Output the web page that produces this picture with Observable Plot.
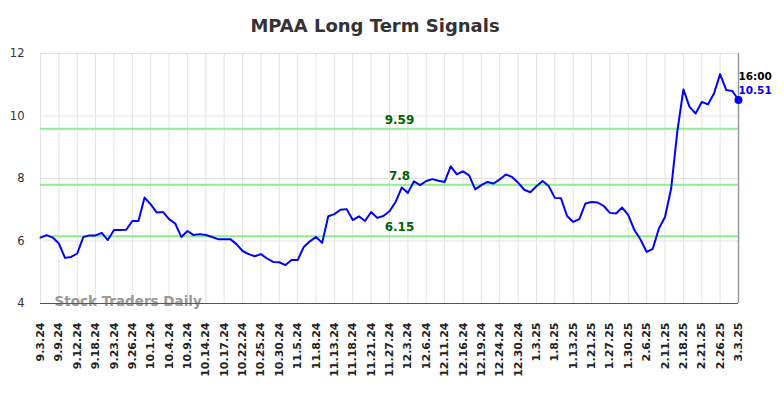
<!DOCTYPE html>
<html><head><meta charset="utf-8">
<script src="https://cdn.jsdelivr.net/npm/d3@7"></script>
<script src="https://cdn.jsdelivr.net/npm/@observablehq/plot@0.6"></script>
<style>
body{margin:0;background:#fff;}
#wrap{position:relative;width:784px;height:398px;}
#title{position:absolute;top:15px;left:0;width:750px;text-align:center;font:bold 18px "DejaVu Sans";color:#333;line-height:normal;}
</style></head><body>
<div id="wrap"><div id="title">MPAA Long Term Signals</div></div>
<script>
const values = [
  6.11, 6.19, 6.11, 5.92, 5.46, 5.49, 5.60, 6.13, 6.18, 6.18,
  6.26, 6.03, 6.35, 6.35, 6.36, 6.64, 6.64, 7.39, 7.17, 6.91,
  6.93, 6.70, 6.56, 6.13, 6.32, 6.19, 6.22, 6.19, 6.13, 6.06,
  6.06, 6.06, 5.90, 5.68, 5.58, 5.51, 5.58, 5.44, 5.33, 5.32,
  5.23, 5.39, 5.39, 5.81, 5.99, 6.13, 5.94, 6.79, 6.86, 7.00,
  7.02, 6.67, 6.79, 6.64, 6.93, 6.74, 6.80, 6.95, 7.25, 7.71,
  7.54, 7.91, 7.79, 7.92, 7.98, 7.93, 7.89, 8.39, 8.13, 8.23,
  8.10, 7.65, 7.79, 7.89, 7.84, 7.97, 8.13, 8.05, 7.87, 7.64,
  7.56, 7.75, 7.92, 7.76, 7.38, 7.37, 6.80, 6.61, 6.70, 7.20,
  7.25, 7.23, 7.12, 6.90, 6.88, 7.07, 6.83, 6.35, 6.05, 5.65,
  5.75, 6.40, 6.77, 7.68, 9.49, 10.85, 10.29, 10.08, 10.45, 10.37,
  10.72, 11.34, 10.83, 10.80, 10.51
];
const tickLabels = [
  "9.3.24","9.9.24","9.12.24","9.18.24","9.23.24","9.26.24","10.1.24","10.4.24","10.9.24","10.14.24",
  "10.17.24","10.22.24","10.25.24","10.30.24","11.5.24","11.8.24","11.13.24","11.18.24","11.21.24","11.27.24",
  "12.3.24","12.6.24","12.11.24","12.16.24","12.19.24","12.24.24","12.30.24","1.3.25","1.8.25","1.13.25",
  "1.21.25","1.27.25","1.30.25","2.6.25","2.11.25","2.18.25","2.21.25","2.26.25","3.3.25"
];
const tickStep = 3;
const levels = [9.59, 7.8, 6.15];
const levelLabels = ["9.59", "7.8", "6.15"];
const yTicks = [4, 6, 8, 10, 12];
const lastTime = "16:00";
const watermark = "Stock Traders Daily";

const data = values.map((v, i) => ({i, v}));
const tickIdx = tickLabels.map((_, k) => k * tickStep);
const last = data[data.length - 1];

const chart = Plot.plot({
  width: 784, height: 398,
  marginLeft: 40, marginRight: 46, marginTop: 53, marginBottom: 95,
  style: {fontFamily: "DejaVu Sans", background: "transparent"},
  x: {domain: [0, values.length - 1]},
  y: {domain: [4, 12]},
  marks: [
    Plot.gridX(tickIdx, {stroke: "#e3e3e3", strokeOpacity: 1}),
    Plot.gridY(yTicks, {stroke: "#e3e3e3", strokeOpacity: 1}),
    Plot.ruleY(levels, {stroke: "#90ee90", strokeWidth: 2}),
    Plot.text(levels, {y: d => d, text: levelLabels, frameAnchor: "middle", dx: 10, dy: -9, fill: "#006400", fontWeight: "bold", fontSize: 12}),
    Plot.axisY(yTicks, {tickSize: 0, tickPadding: 16, fontSize: 11.5, fill: "#333", label: null}),
    Plot.axisX(tickIdx, {tickFormat: d => tickLabels[d / tickStep], tickRotate: -90, tickSize: 0, tickPadding: 19, fontSize: 11, fontWeight: "bold", fill: "#222", label: null}),
    Plot.text([watermark], {frameAnchor: "bottom-left", dx: 14, dy: 2, fill: "#999", fontWeight: "bold", fontSize: 13.5}),
    Plot.ruleY([4], {stroke: "#555", strokeWidth: 1}),
    Plot.ruleX([values.length - 1], {stroke: "#999", strokeWidth: 1.5}),
    Plot.line(data, {x: "i", y: "v", stroke: "#0000ff", strokeWidth: 2}),
    Plot.dot([last], {x: "i", y: "v", r: 4, fill: "#0000ff"}),
    Plot.text([last], {x: "i", y: "v", text: () => lastTime, textAnchor: "start", dy: -23, fill: "#000", fontWeight: "bold", fontSize: 10.5}),
    Plot.text([last], {x: "i", y: "v", text: d => d.v.toFixed(2), textAnchor: "start", dy: -9, fill: "#0000ff", fontWeight: "bold", fontSize: 10.5})
  ]
});
document.getElementById("wrap").prepend(chart);
</script>
</body></html>
